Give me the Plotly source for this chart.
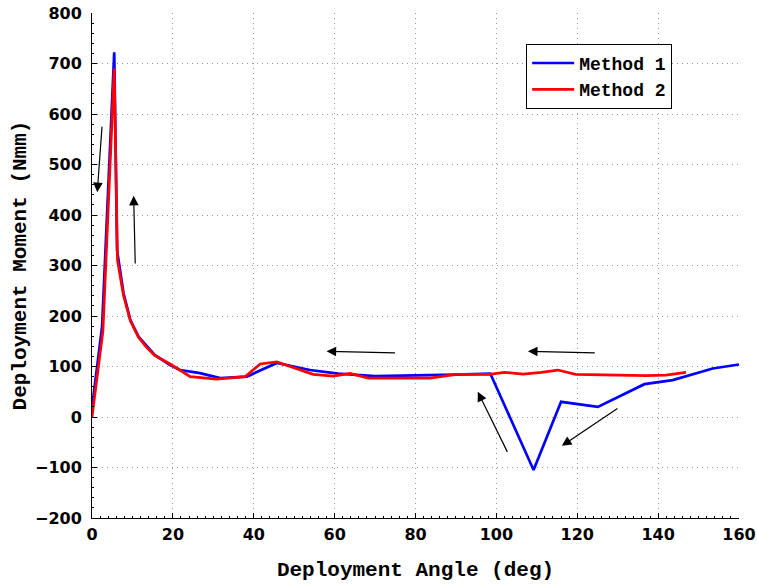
import plotly.graph_objects as go

# Method 1 (blue)
m1_angle = [0, 2.5, 5.5, 6.2, 7.8, 9.5, 11.5, 13.5, 15.5, 19.3, 21.8, 26.7, 31.7, 38.3,
            45.7, 53.9, 60.9, 70, 80, 90, 98.5, 109.2, 116, 125.1, 136.6, 143.6, 153.5, 160]
m1_moment = [18, 180, 722, 330, 245, 192, 159, 140, 123, 103, 93, 87, 77, 80,
             107, 93, 86, 81, 82, 84, 86, -105, 30, 20, 65, 73, 96, 104]

# Method 2 (red)
m2_angle = [0, 2.7, 5.5, 6.3, 7.8, 9.5, 11.5, 13.5, 15.5, 19.3, 24.3, 30.8, 37.9, 41.6,
            45.7, 54.7, 59.7, 63.8, 68.3, 83.6, 90.1, 98.3, 102, 106.6, 111.1, 115.2,
            119.6, 127.2, 137, 141.9, 146.9]
m2_moment = [0, 170, 690, 310, 240, 190, 158, 138, 122, 105, 80, 75, 80, 105,
             109, 84.5, 81, 86.5, 77, 77, 84.5, 84.5, 88.5, 85, 88.5, 93,
             84.5, 83, 82, 83, 88.5]

# arrows: (tail_x, tail_y, head_x, head_y)
arrows = [
    (2.5, 578, 1.3, 445),
    (10.7, 301, 10.3, 438),
    (75.3, 127, 58.0, 130),
    (124.7, 127, 107.8, 130),
    (102.9, -72, 95.4, 50),
    (130.3, 19, 116.2, -57),
]

MONO = "Liberation Mono, Courier New, monospace"
SANS = "DejaVu Sans, sans-serif"

fig = go.Figure()
fig.add_trace(go.Scatter(x=m1_angle, y=m1_moment, mode="lines", name="Method 1",
                         line=dict(color="#0000ff", width=2.7)))
fig.add_trace(go.Scatter(x=m2_angle, y=m2_moment, mode="lines", name="Method 2",
                         line=dict(color="#ff0000", width=2.7)))

for tx, ty, hx, hy in arrows:
    fig.add_annotation(x=hx, y=hy, ax=tx, ay=ty, xref="x", yref="y", axref="x", ayref="y",
                       showarrow=True, arrowhead=2, arrowsize=1.6, arrowwidth=1.2,
                       arrowcolor="black", text="")

axis_common = dict(
    showline=True, linecolor="black", linewidth=1,
    ticks="inside", ticklen=5, tickcolor="black",
    showgrid=True, gridcolor="#9a9a9a", griddash="1px,4px", gridwidth=1,
    zeroline=False, mirror=False, automargin=False,
    tickfont=dict(family=SANS, size=16, color="black", weight="bold"),
)

fig.update_xaxes(range=[0, 160], dtick=20, tick0=0,
                 minor=dict(ticks="inside", ticklen=2, dtick=2, tickcolor="black", showgrid=False),
                 title=dict(text="Deployment Angle (deg)", standoff=18,
                            font=dict(family=MONO, size=21, color="black", weight="bold")),
                 ticklabelstandoff=2,
                 **axis_common)
fig.update_yaxes(range=[-200, 800], dtick=100, tick0=0,
                 minor=dict(ticks="inside", ticklen=2, dtick=20, tickcolor="black", showgrid=False),
                 title=dict(text="Deployment Moment (Nmm)", standoff=2,
                            font=dict(family=MONO, size=21, color="black", weight="bold")),
                 ticklabelstandoff=6,
                 **axis_common)

fig.update_layout(
    width=757, height=587,
    margin=dict(l=92, r=18, t=13, b=69),
    plot_bgcolor="white", paper_bgcolor="white",
    legend=dict(x=0.671, y=0.939, xanchor="left", yanchor="top",
                bordercolor="black", borderwidth=1, bgcolor="white",
                font=dict(family=MONO, size=18, color="black", weight="bold"),
                tracegroupgap=0, itemwidth=42),
    showlegend=True,
)

fig.write_html("out.html")
